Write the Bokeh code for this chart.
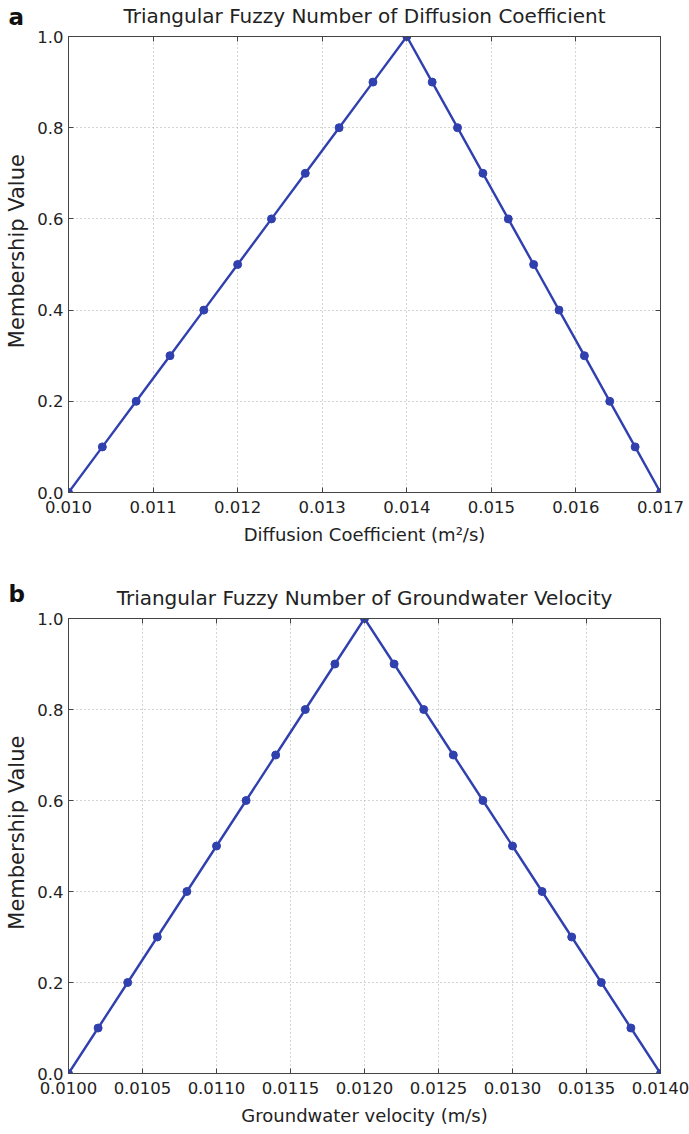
from bokeh.plotting import figure
from bokeh.layouts import column
from bokeh.models import (FixedTicker, Range1d, LinearAxis, PrintfTickFormatter)
from bokeh.embed import file_html
from bokeh.resources import INLINE

# ---- data ----
membership = [0.0, 0.1, 0.2, 0.3, 0.4, 0.5, 0.6, 0.7, 0.8, 0.9, 1.0,
              0.9, 0.8, 0.7, 0.6, 0.5, 0.4, 0.3, 0.2, 0.1, 0.0]
diffusion_x = [0.0100, 0.0104, 0.0108, 0.0112, 0.0116, 0.0120, 0.0124, 0.0128, 0.0132, 0.0136, 0.0140,
               0.0143, 0.0146, 0.0149, 0.0152, 0.0155, 0.0158, 0.0161, 0.0164, 0.0167, 0.0170]
velocity_x = [0.0100, 0.0102, 0.0104, 0.0106, 0.0108, 0.0110, 0.0112, 0.0114, 0.0116, 0.0118, 0.0120,
              0.0122, 0.0124, 0.0126, 0.0128, 0.0130, 0.0132, 0.0134, 0.0136, 0.0138, 0.0140]
ticks_a = [0.010, 0.011, 0.012, 0.013, 0.014, 0.015, 0.016, 0.017]
ticks_b = [0.0100, 0.0105, 0.0110, 0.0115, 0.0120, 0.0125, 0.0130, 0.0135, 0.0140]
y_ticks = [0.0, 0.2, 0.4, 0.6, 0.8, 1.0]

FONT = "DejaVu Sans"
LINE = "#3040ae"
TXT = "#222222"


def make(xs, ys, xticks, fmt, xr, title, xlabel, letter, border, s_letter):
    top, bottom, left, right = border
    p = figure(width=689, height=567, output_backend="svg", toolbar_location=None,
               x_range=Range1d(*xr), y_range=Range1d(0, 1),
               min_border_top=top, min_border_bottom=bottom,
               min_border_left=left, min_border_right=right)
    # panel letter (bold, left)
    p.title.text = letter
    p.title.align = "left"
    p.title.offset = -60
    p.title.text_font = FONT
    p.title.text_font_size = "23px"
    p.title.text_font_style = "bold"
    p.title.text_color = "#111111"
    p.title.standoff = s_letter

    p.line(xs, ys, line_color=LINE, line_width=2.4)
    p.scatter(xs, ys, size=8, fill_color=LINE, line_color=LINE)

    p.xaxis.ticker = FixedTicker(ticks=xticks)
    p.xaxis.formatter = PrintfTickFormatter(format=fmt)
    p.yaxis.ticker = FixedTicker(ticks=y_ticks)
    p.yaxis.formatter = PrintfTickFormatter(format="%.1f")
    p.xaxis.axis_label = xlabel
    p.yaxis.axis_label = "\u00a0\u00a0\u00a0\u00a0Membership Value"
    for ax in (p.xaxis, p.yaxis):
        ax.axis_label_text_font = FONT
        ax.axis_label_text_font_style = "normal"
        ax.axis_label_text_color = TXT
        ax.major_label_text_font = FONT
        ax.major_label_text_font_size = "16.5px"
        ax.major_label_text_color = TXT
        ax.major_tick_in = 5
        ax.major_tick_out = 0
        ax.minor_tick_line_color = None
        ax.axis_line_color = "#444444"
        ax.major_tick_line_color = "#444444"
    p.xaxis.axis_label_text_font_size = "18px"
    p.yaxis.axis_label_text_font_size = "21px"
    p.xaxis.major_label_standoff = 8
    p.xaxis.axis_label_standoff = 8
    p.yaxis.major_label_standoff = 5
    p.yaxis.axis_label_standoff = 5

    # inward ticks on the top and right edges, without labels; top one carries the title
    for loc, tk in (("above", xticks), ("right", y_ticks)):
        ax = LinearAxis(ticker=FixedTicker(ticks=tk),
                        major_label_overrides={t: "" for t in tk},
                        major_label_text_font_size="1px", major_tick_in=5,
                        major_tick_out=0, minor_tick_line_color=None,
                        axis_line_color="#444444", major_tick_line_color="#444444",
                        major_label_standoff=0)
        if loc == "above":
            ax.axis_label = title
            ax.axis_label_text_font = FONT
            ax.axis_label_text_font_size = "20px"
            ax.axis_label_text_font_style = "normal"
            ax.axis_label_text_color = TXT
            ax.axis_label_standoff = 9
        p.add_layout(ax, loc)

    p.grid.grid_line_color = "#aaaaaa"
    p.grid.grid_line_dash = "1 3"
    p.grid.grid_line_width = 1
    p.outline_line_color = "#444444"
    p.outline_line_width = 1
    return p


p1 = make(diffusion_x, membership, ticks_a, "%.3f", (0.010, 0.017),
          "Triangular Fuzzy Number of Diffusion Coefficient",
          "Diffusion Coefficient (m\u00b2/s)", "a", (36, 75, 68, 29), -59)
p2 = make(velocity_x, membership, ticks_b, "%.4f", (0.0100, 0.0140),
          "Triangular Fuzzy Number of Groundwater Velocity",
          "Groundwater velocity (m/s)", "b", (51, 61, 68, 27), -49)

layout = column(p1, p2, spacing=0)
open("out.html", "w").write(file_html(layout, INLINE))
